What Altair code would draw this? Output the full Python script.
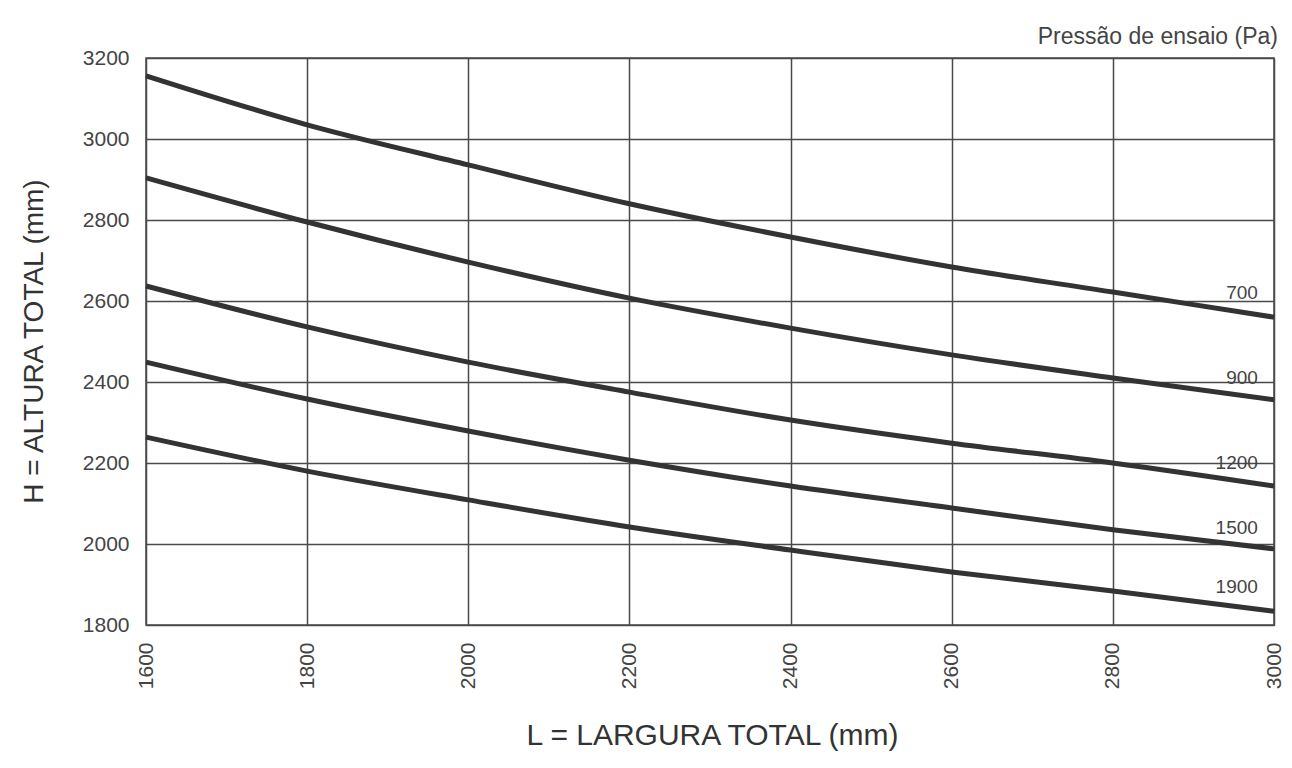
import altair as alt
import pandas as pd

FONT = "Liberation Sans, Arial, sans-serif"

L = [1600, 1800, 2000, 2200, 2400, 2600, 2800, 3000]
H700 = [3156, 3035, 2936, 2840, 2758, 2684, 2622, 2560]
H900 = [2904, 2795, 2696, 2607, 2533, 2467, 2410, 2356]
H1200 = [2637, 2536, 2449, 2375, 2306, 2249, 2200, 2143]
H1500 = [2449, 2358, 2279, 2207, 2143, 2089, 2035, 1988]
H1900 = [2264, 2180, 2109, 2042, 1985, 1931, 1884, 1834]

series_names = ["700", "900", "1200", "1500", "1900"]
series_vals = [H700, H900, H1200, H1500, H1900]

label_x = [2980, 2980, 2980, 2980, 2980]
label_y = [2620, 2410, 2200, 2040, 1893]

legend_title = ["Pressão de ensaio (Pa)"]

ticks = [1600, 1800, 2000, 2200, 2400, 2600, 2800, 3000]
yticks = [1800, 2000, 2200, 2400, 2600, 2800, 3000, 3200]

rows = []
for name, vals in zip(series_names, series_vals):
    for x, y in zip(L, vals):
        rows.append({"L": x, "H": y, "P": name})
df = pd.DataFrame(rows)
lab = pd.DataFrame({"L": label_x, "H": label_y, "P": series_names})
ttl = pd.DataFrame({"t": legend_title})

W, H = 1128, 567

xscale = alt.Scale(domain=[1600, 3000], nice=False, zero=False)
yscale = alt.Scale(domain=[1800, 3200], nice=False, zero=False)

xaxis = alt.Axis(
    values=ticks, format="d", labelAngle=-90, labelFontSize=21, labelFont=FONT, labelColor="#444",
    labelPadding=17, ticks=False, domain=False, grid=True, gridColor="#4a4a4a", gridWidth=1.5,
    title="L = LARGURA TOTAL (mm)", titleFont=FONT, titleFontSize=30, titleFontWeight="normal",
    titleColor="#333", titleX=566, titleY=110, titleAlign="center", titleBaseline="middle",
)
yaxis = alt.Axis(
    values=yticks, format="d", labelFontSize=21, labelFont=FONT, labelColor="#444", labelPadding=17,
    ticks=False, domain=False, grid=True, gridColor="#4a4a4a", gridWidth=1.5,
    title="H = ALTURA TOTAL (mm)", titleFont=FONT, titleFontSize=28, titleFontWeight="normal",
    titleColor="#333", titleX=-112, titleY=283, titleAlign="center", titleBaseline="middle",
    titleAngle=-90,
)

lines = alt.Chart(df).mark_line(color="#333", strokeWidth=5, interpolate="monotone").encode(
    x=alt.X("L:Q", scale=xscale, axis=xaxis),
    y=alt.Y("H:Q", scale=yscale, axis=yaxis),
    detail="P:N",
)

texts = alt.Chart(lab).mark_text(
    align="right", baseline="middle", font=FONT, fontSize=19, color="#444"
).encode(
    x=alt.X("L:Q", scale=xscale),
    y=alt.Y("H:Q", scale=yscale),
    text="P:N",
)

title_text = alt.Chart(ttl).mark_text(
    align="right", baseline="alphabetic", font=FONT, fontSize=23, color="#444"
).encode(
    x=alt.value(W + 4),
    y=alt.value(-14),
    text="t:N",
)

chart = (lines + texts + title_text).properties(
    width=W,
    height=H,
    autosize="none",
    padding={"left": 138, "top": 50, "right": 10, "bottom": 135},
).configure_view(stroke="#4a4a4a", strokeWidth=1.5)

chart.save("out.html", embed_options={"renderer": "svg", "actions": False})
